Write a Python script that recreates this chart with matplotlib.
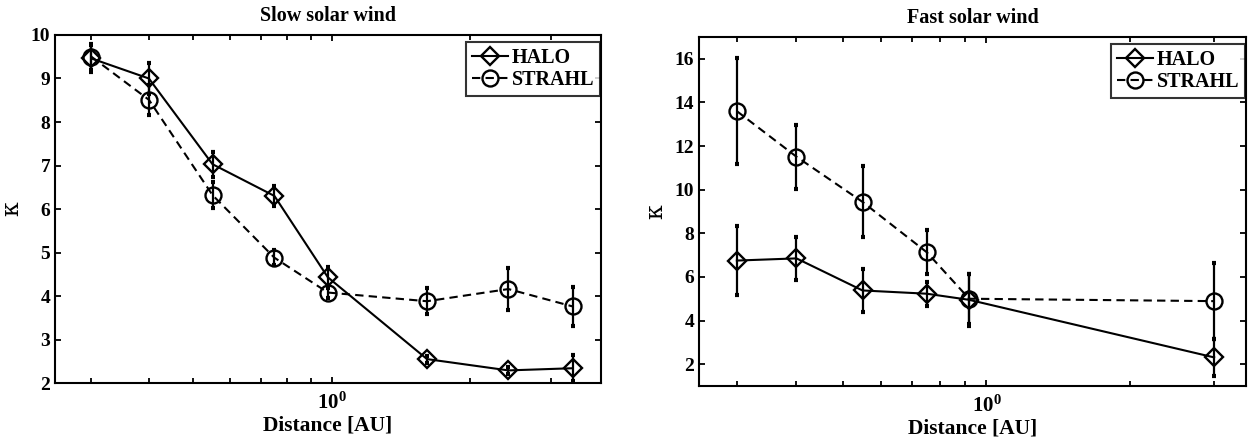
import matplotlib
matplotlib.use("Agg")
import matplotlib.pyplot as plt
from matplotlib.ticker import FixedLocator, FixedFormatter, NullFormatter, LogLocator

plt.rcParams['font.family'] = ['Liberation Serif', 'DejaVu Serif']
plt.rcParams['font.weight'] = 'bold'
plt.rcParams['mathtext.fontset'] = 'custom'
plt.rcParams['mathtext.rm'] = 'Liberation Serif:bold'
plt.rcParams['mathtext.bf'] = 'Liberation Serif:bold'
plt.rcParams['mathtext.it'] = 'Liberation Serif:italic'

# ---- data: slow solar wind ----
slow_dist = [0.30, 0.40, 0.55, 0.75, 0.98, 1.61, 2.42, 3.34]
slow_halo = [9.46, 9.00, 7.03, 6.30, 4.43, 2.55, 2.29, 2.34]
slow_halo_err = [0.30, 0.35, 0.29, 0.22, 0.24, 0.08, 0.08, 0.30]
slow_strahl = [9.50, 8.51, 6.32, 4.88, 4.08, 3.88, 4.16, 3.76]
slow_strahl_err = [0.30, 0.35, 0.30, 0.17, 0.13, 0.30, 0.48, 0.44]

# ---- data: fast solar wind ----
fast_dist = [0.30, 0.40, 0.55, 0.75, 0.92, 3.00]
fast_halo = [6.75, 6.85, 5.38, 5.23, 4.95, 2.31]
fast_halo_err = [1.58, 1.00, 0.99, 0.56, 1.20, 0.83]
fast_strahl = [13.60, 11.51, 9.44, 7.13, 5.00, 4.89]
fast_strahl_err = [2.43, 1.47, 1.63, 1.00, 1.14, 1.74]

titles = ["Slow solar wind", "Fast solar wind"]
series_labels = ["HALO", "STRAHL"]
xlabel = "Distance [AU]"
ylabel = "\u03ba"
slow_yticks = [2, 3, 4, 5, 6, 7, 8, 9, 10]
fast_yticks = [2, 4, 6, 8, 10, 12, 14, 16]
xtick_vals = [1.0]
xtick_labels = [r"$\mathbf{10^{0}}$"]

fig = plt.figure(figsize=(12.51, 4.43), dpi=100)
ax1 = fig.add_axes([0.044, 0.1354, 0.4365, 0.7856])
ax2 = fig.add_axes([0.5588, 0.1287, 0.4373, 0.7878])

dash = (0, (4, 2.5))

def draw(ax, dist, halo, halo_err, strahl, strahl_err, xlim, ylim, yticks, title):
    ax.set_xscale('log')
    ax.errorbar(dist, halo, yerr=halo_err, fmt='none', ecolor='black',
                elinewidth=1.6, capsize=1.6, capthick=3)
    ax.errorbar(dist, strahl, yerr=strahl_err, fmt='none', ecolor='black',
                elinewidth=1.6, capsize=1.6, capthick=3)
    h1, = ax.plot(dist, halo, color='black', lw=1.5, ls='-', marker='D',
                  ms=9.5, mfc='none', mec='black', mew=1.7, label=series_labels[0])
    h2, = ax.plot(dist, strahl, color='black', lw=1.5, ls=dash, marker='o',
                  ms=11.5, mfc='none', mec='black', mew=1.7, label=series_labels[1])
    ax.set_xlim(*xlim)
    ax.set_ylim(*ylim)
    ax.set_yticks(yticks)
    ax.set_yticklabels([str(v) for v in yticks])
    ax.xaxis.set_major_locator(FixedLocator(xtick_vals))
    ax.xaxis.set_major_formatter(FixedFormatter(xtick_labels))
    ax.xaxis.set_minor_locator(LogLocator(base=10, subs=range(2, 10)))
    ax.xaxis.set_minor_formatter(NullFormatter())
    ax.tick_params(which='both', direction='in', top=True, right=True,
                   width=1.3, labelsize=14)
    ax.tick_params(axis='x', which='major', labelsize=15, pad=7)
    ax.tick_params(which='major', length=4.5)
    ax.tick_params(which='minor', length=3.5)
    for lab in ax.get_yticklabels():
        lab.set_fontweight('bold')
    for s in ax.spines.values():
        s.set_linewidth(1.5)
    ax.set_title(title, fontsize=14.5, fontweight='bold', pad=10)
    ax.set_xlabel(xlabel, fontsize=15.5, fontweight='bold', labelpad=1)
    ax.set_ylabel(ylabel, fontsize=17, fontweight='normal', labelpad=5,
                  family=['DejaVu Serif'])
    leg = ax.legend(handles=[h1, h2], loc='upper right',
                    bbox_to_anchor=(0.998, 0.98), fontsize=14.5,
                    frameon=True, fancybox=False, edgecolor='black',
                    borderaxespad=0.0, handlelength=1.8, handletextpad=0.15,
                    borderpad=0.3, labelspacing=0.1, numpoints=1)
    leg.get_frame().set_linewidth(1.5)
    for t in leg.get_texts():
        t.set_fontweight('bold')

draw(ax1, slow_dist, slow_halo, slow_halo_err, slow_strahl, slow_strahl_err,
     (0.25, 3.85), (2, 10), slow_yticks, titles[0])
draw(ax2, fast_dist, fast_halo, fast_halo_err, fast_strahl, fast_strahl_err,
     (0.25, 3.5), (1, 17), fast_yticks, titles[1])

fig.savefig("out.png", dpi=100)
